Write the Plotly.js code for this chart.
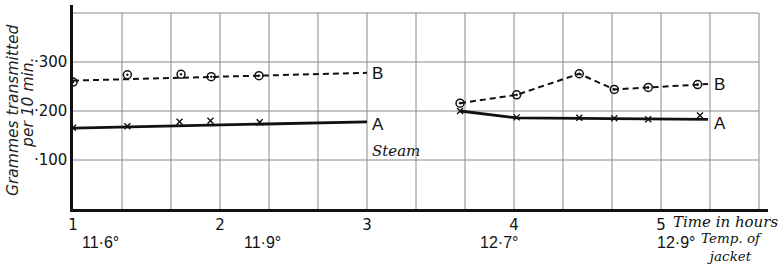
<!DOCTYPE html>
<html><head><meta charset="utf-8">
<script src="https://cdn.plot.ly/plotly-3.0.1.min.js"></script>
<style>body{margin:0;background:#fff}#chart{width:778px;height:266px}</style>
</head><body><div id="chart"></div>
<script>
// Curve A (x markers) and curve B (circle markers); time in hours, grammes per 10 min.
const timeA1 = [1.0, 1.37, 1.725, 1.935, 2.27];
const gramsA1 = [166, 169, 178, 180, 177];
const lineTimeA1 = [1.0, 3.0];
const lineGramsA1 = [165, 178];
const timeB1 = [1.0, 1.37, 1.735, 1.94, 2.265];
const gramsB1 = [259, 274, 275, 270, 272];
const lineTimeB1 = [1.0, 3.0];
const lineGramsB1 = [262, 278];

const timeA2 = [3.633, 4.018, 4.444, 4.682, 4.913, 5.265];
const gramsA2 = [200, 187, 186, 185, 183, 191];
const lineTimeA2 = [3.633, 4.018, 5.32];
const lineGramsA2 = [200, 186, 183];
const timeB2 = [3.633, 4.018, 4.444, 4.682, 4.913, 5.249];
const gramsB2 = [216, 233, 276, 244, 248, 254];
const lineTimeB2 = [3.633, 4.018, 4.444, 4.682, 4.913, 5.249, 5.32];
const lineGramsB2 = [216, 233, 276, 244, 248, 254, 255];

const hourTicks = [1, 2, 3, 4, 5];
const hourLabels = ['1', '2', '3', '4', '5'];
const gramTicks = [100, 200, 300];
const gramLabels = ['·100', '·200', '·300'];
const tempTimes = [1.19, 2.29, 3.90, 5.10];
const tempLabels = ['11·6°', '11·9°', '12·7°', '12·9°'];

const gridTimes = [];
for (let k = 1; k <= 14; k++) gridTimes.push(1 + k / 3);
const gridGrams = [100, 200, 300, 400];
const gridRight = 1 + 14 / 3;

const numFont = {family: 'DejaVu Sans', size: 15, color: '#111'};
const labFont = {family: 'Liberation Sans, Arial', size: 17, color: '#111'};
const italFont = {family: 'DejaVu Serif', size: 15, color: '#111', style: 'italic'};

const lineA = {color: '#111', width: 2.8};
const lineB = {color: '#111', width: 2, dash: '6px,4px'};
const mkA = {symbol: 'x-thin-open', size: 6, color: '#111', line: {color: '#111', width: 1.4}};
const mkB = {symbol: 'circle-open-dot', size: 8, color: '#111', line: {color: '#111', width: 1.5}};

const traces = [
  {x: lineTimeA1, y: lineGramsA1, mode: 'lines', line: lineA},
  {x: timeA1, y: gramsA1, mode: 'markers', marker: mkA},
  {x: lineTimeB1, y: lineGramsB1, mode: 'lines', line: lineB},
  {x: timeB1, y: gramsB1, mode: 'markers', marker: mkB},
  {x: lineTimeA2, y: lineGramsA2, mode: 'lines', line: lineA},
  {x: timeA2, y: gramsA2, mode: 'markers', marker: mkA},
  {x: lineTimeB2, y: lineGramsB2, mode: 'lines', line: lineB},
  {x: timeB2, y: gramsB2, mode: 'markers', marker: mkB}
];

const shapes = [];
gridTimes.forEach(t => shapes.push({type: 'line', xref: 'x', yref: 'y', x0: t, x1: t, y0: 0, y1: 400,
  line: {color: '#8a8a8a', width: 1}, layer: 'below'}));
gridGrams.forEach(g => shapes.push({type: 'line', xref: 'x', yref: 'y', x0: 1, x1: gridRight, y0: g, y1: g,
  line: {color: '#8a8a8a', width: 1}, layer: 'below'}));

const annotations = [];
tempTimes.forEach((t, i) => annotations.push({x: t, y: 0, xref: 'x', yref: 'paper', text: tempLabels[i],
  showarrow: false, xanchor: 'center', yanchor: 'middle', yshift: -33, font: {family: 'Liberation Sans, Arial', size: 16, color: '#111'}}));
annotations.push({x: 5, y: 0, xref: 'x', yref: 'paper', xshift: 10, yshift: -12.7, text: 'Time in hours',
  showarrow: false, xanchor: 'left', yanchor: 'middle', font: italFont});
annotations.push({x: 5.262, y: 0, xref: 'x', yref: 'paper', yshift: -56, text: 'Temp. of<br>jacket', align: 'center',
  showarrow: false, xanchor: 'left', yanchor: 'bottom', borderpad: 0,
  font: {family: 'DejaVu Serif', size: 13.5, color: '#111', style: 'italic'}});
annotations.push({x: lineTimeB1[1], y: lineGramsB1[1], text: 'B', showarrow: false, xanchor: 'left', yanchor: 'middle', xshift: 3, yshift: -1, font: labFont});
annotations.push({x: lineTimeA1[1], y: lineGramsA1[1], text: 'A', showarrow: false, xanchor: 'left', yanchor: 'middle', xshift: 3, yshift: -3, font: labFont});
annotations.push({x: lineTimeB2[6], y: lineGramsB2[6], text: 'B', showarrow: false, xanchor: 'left', yanchor: 'middle', xshift: 4, yshift: 0, font: labFont});
annotations.push({x: lineTimeA2[2], y: lineGramsA2[2], text: 'A', showarrow: false, xanchor: 'left', yanchor: 'middle', xshift: 4, yshift: -4, font: labFont});
annotations.push({x: 3.02, y: 118, text: 'Steam', showarrow: false, xanchor: 'left', yanchor: 'middle', font: italFont});
annotations.push({x: 0, y: 0.485, xref: 'paper', yref: 'paper', xshift: -60, text: 'Grammes transmitted', textangle: -90,
  showarrow: false, xanchor: 'center', yanchor: 'middle', font: {family: 'DejaVu Sans', size: 15.5, color: '#222', style: 'italic'}});
annotations.push({x: 0, y: 0.52, xref: 'paper', yref: 'paper', xshift: -45, text: 'per 10 min.', textangle: -90,
  showarrow: false, xanchor: 'center', yanchor: 'middle', font: {family: 'DejaVu Sans', size: 15.5, color: '#222', style: 'italic'}});

const layout = {
  width: 778, height: 266,
  margin: {l: 73, r: 10, t: 5, b: 57},
  paper_bgcolor: '#fff', plot_bgcolor: '#fff',
  showlegend: false,
  xaxis: {range: [1, 1 + 695 / 147], showgrid: false, zeroline: false, showline: true, linecolor: '#111', linewidth: 2.6,
    tickvals: hourTicks, ticktext: hourLabels, ticks: '', tickfont: numFont},
  yaxis: {range: [0, 204 / 0.49], showgrid: false, zeroline: false, showline: true, linecolor: '#111', linewidth: 2.6,
    tickvals: gramTicks, ticktext: gramLabels, ticks: '', tickfont: numFont},
  shapes: shapes,
  annotations: annotations
};

Plotly.newPlot('chart', traces, layout, {staticPlot: true, displayModeBar: false});
</script></body></html>
